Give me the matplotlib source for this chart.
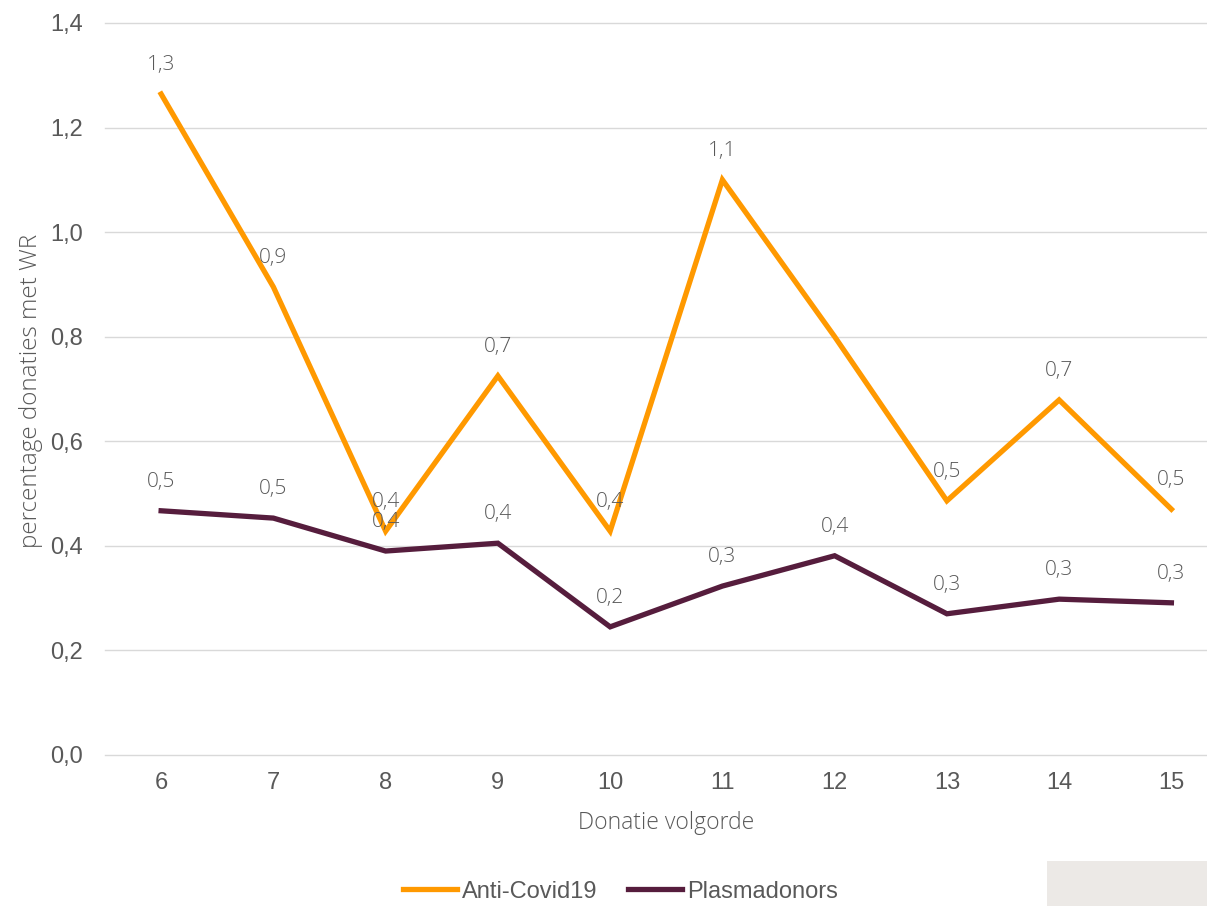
import matplotlib.pyplot as plt
from matplotlib.patches import Rectangle

# Donatie volgorde
volgorde = [6, 7, 8, 9, 10, 11, 12, 13, 14, 15]
anti_covid = [1.264, 0.895, 0.428, 0.725, 0.428, 1.100, 0.800, 0.486, 0.679, 0.470]
plasma = [0.467, 0.453, 0.390, 0.405, 0.245, 0.323, 0.381, 0.270, 0.298, 0.291]
y_ticks = [0.0, 0.2, 0.4, 0.6, 0.8, 1.0, 1.2, 1.4]

orange = '#FF9900'
paars = '#561D3D'
grijs = '#595959'

fig = plt.figure(figsize=(12.07, 9.06), dpi=100)
ax = fig.add_axes([0.087, 0.1667, 0.930, 0.808])

x = range(len(volgorde))
ax.plot(x, anti_covid, color=orange, linewidth=3.8, label='Anti-Covid19', solid_joinstyle='miter')
ax.plot(x, plasma, color=paars, linewidth=3.8, label='Plasmadonors', solid_joinstyle='miter')

# datalabels boven de punten (12 bij Anti-Covid heeft geen label)
lbl = dict(textcoords='offset points', ha='center', va='center', fontsize=15,
           color=grijs, family='Open Sans', fontweight='light')
for i, v in enumerate(anti_covid):
    if volgorde[i] == 12:
        continue
    ax.annotate(f'{v:.1f}'.replace('.', ','), (i, v), xytext=(0, 21), **lbl)
for i, v in enumerate(plasma):
    ax.annotate(f'{v:.1f}'.replace('.', ','), (i, v), xytext=(0, 21), **lbl)

ax.set_xlim(-0.5, len(volgorde) - 0.5)
ax.set_ylim(0, 1.4)
ax.set_xticks(list(x))
ax.set_xticklabels([str(v) for v in volgorde], family='Liberation Sans', fontsize=17, color=grijs)
ax.set_yticks(y_ticks)
ax.set_yticklabels([f'{v:.1f}'.replace('.', ',') for v in y_ticks], family='Liberation Sans',
                   fontsize=17, color=grijs)
ax.tick_params(length=0, pad=12.5)
ax.tick_params(axis='y', pad=16)

ax.grid(axis='y', color='#D9D9D9', linewidth=1)
for g in ax.get_ygridlines():
    g.set_clip_on(False)
ax.set_axisbelow(True)
for s in ax.spines.values():
    s.set_visible(False)

ax.set_xlabel('Donatie volgorde', family='Open Sans', fontweight='light', fontsize=16.5, color=grijs, labelpad=12)
fig.text(0.026, 0.568, 'percentage donaties met WR', rotation=90, ha='center', va='center',
         family='Open Sans', fontweight='light', fontsize=17.5, color=grijs)

leg = fig.legend(loc='center', bbox_to_anchor=(0.514, 0.016), ncol=2, frameon=False,
                 prop={'family': 'Liberation Sans', 'size': 17}, handlelength=2.3,
                 handletextpad=0.2, columnspacing=1.3)
for t in leg.get_texts():
    t.set_color(grijs)

fig.patches.append(Rectangle((1047 / 1207, 0), 160 / 1207, 45 / 906, transform=fig.transFigure,
                             facecolor='#ECE9E6', edgecolor='none'))

fig.savefig('out.png', dpi=100)
